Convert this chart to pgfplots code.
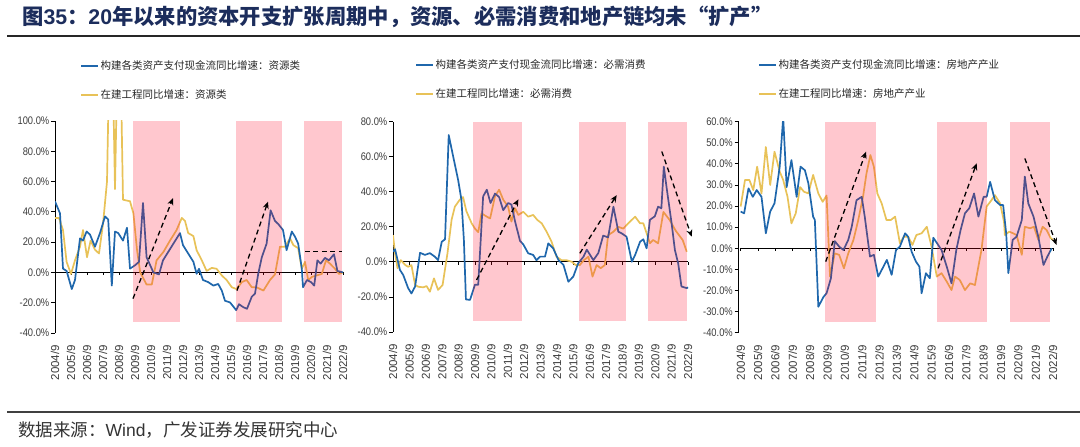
\documentclass[border=0pt]{standalone}
\usepackage{pgfplots}
\pgfplotsset{compat=1.18}
\usetikzlibrary{arrows.meta}
\usepackage{fontspec}
\setmainfont{Liberation Sans}
\newfontfamily\cjk{Noto Sans CJK SC}
\newfontfamily\narrowf[FakeStretch=0.85]{Liberation Sans}
\definecolor{lblue}{RGB}{31,103,172}
\definecolor{lyel}{RGB}{232,194,88}
\definecolor{titlec}{RGB}{28,45,92}
\definecolor{shadec}{RGB}{255,0,30}
\definecolor{tickc}{RGB}{60,60,60}

\pgfplotsset{
  panelstyle/.style={
    scale only axis,
    axis y line*=left,
    axis x line*=bottom,
    x axis line style={draw=none},
    xtick style={draw=none},
    y axis line style={black, line width=0.8bp},
    ytick style={black, line width=0.8bp},
    tick align=outside,
    major tick length=4bp,
    xmin=0, xmax=74,
    xtick={0,4,...,72},
    xticklabels={2004/9,2005/9,2006/9,2007/9,2008/9,2009/9,2010/9,2011/9,2012/9,2013/9,2014/9,2015/9,2016/9,2017/9,2018/9,2019/9,2020/9,2021/9,2022/9},
    xticklabel style={rotate=90, anchor=east, inner sep=0pt, font=\fontsize{11.5bp}{11.5bp}\selectfont, text=tickc},
    xticklabel shift=8bp,
    yticklabel style={font=\narrowf\fontsize{11bp}{11bp}\selectfont, text=tickc, inner sep=1.5bp},
    legend style={draw=none, fill=none, inner sep=0pt, row sep=15bp,
      font=\cjk\fontsize{10.5bp}{12bp}\selectfont, text=black!85, anchor=north west,
      nodes={inner xsep=1.5bp}},
    legend cell align=left,
    reverse legend,
    legend image code/.code={\draw[#1, line width=2bp] (0bp,0bp) -- (17bp,0bp);},
    clip=true,
  },
  bl/.style={lblue, line width=1.7bp, line join=round},
  yl/.style={lyel, line width=1.7bp, line join=round},
  shadest/.style={draw=none, fill=shadec, fill opacity=0.22, forget plot},
  arr/.style={black, line width=1.3bp, dash pattern=on 5bp off 3.5bp, -{Stealth[length=7bp,width=6bp]}, forget plot},
}

\begin{document}
\begin{tikzpicture}
\path[use as bounding box] (0,0) rectangle (1080bp,447bp);

% title
\node[anchor=base west, inner sep=0pt, text=titlec] at (22bp,422bp)
  {\fontsize{21.3bp}{24bp}\selectfont\cjk\bfseries 图{\rmfamily\bfseries 35}：{\rmfamily\bfseries 20}年以来的资本开支扩张周期中，资源、必需消费和地产链均未“扩产”};
\draw[black!85, line width=1.5bp] (7bp,411bp) -- (1080bp,411bp);
\draw[black!75, line width=1.2bp] (7bp,35bp) -- (1080bp,35bp);
\node[anchor=base west, inner sep=0pt, text=black!80] at (18bp,11bp)
  {\fontsize{17.5bp}{19bp}\selectfont\cjk 数据来源：{\rmfamily Wind}，广发证券发展研究中心};

% ================= Panel 1 =================
\begin{axis}[panelstyle,
  at={(55bp,114bp)}, anchor=south west,
  width=296bp, height=212bp,
  ymin=-40, ymax=100,
  ytick={-40,-20,0,20,40,60,80,100},
  yticklabels={-40.0\%,-20.0\%,0.0\%,20.0\%,40.0\%,60.0\%,80.0\%,100.0\%},
  legend style={at={(0.0845,1.295)}},
]
\addplot[black, line width=1bp, forget plot] coordinates {(0,0) (72,0)};
\addplot[black, line width=0.8bp, ycomb, forget plot] coordinates {(0,-2)(4,-2)(8,-2)(12,-2)(16,-2)(20,-2)(24,-2)(28,-2)(32,-2)(36,-2)(40,-2)(44,-2)(48,-2)(52,-2)(56,-2)(60,-2)(64,-2)(68,-2)(72,-2)};
\addplot[yl] coordinates {(0,36)(1,36)(2,28)(2.9,7)(4,-1)(5,8)(6.25,17)(7,28)(8,10)(8.9,21)(10,15)(11,12.5)(12,32)(13,60)(14,200)(15,55)(16,200)(17,48)(18.75,47)(19.6,39)(20.5,15)(21.3,0)(22.9,-8)(24.2,-8)(25.4,8)(27.1,13.5)(28.75,21)(30.4,28)(31.7,36)(32.5,34)(33.3,26)(34.6,24)(35.4,14.7)(36.7,8)(37.9,1)(39.2,3)(40.4,2.4)(41.7,-2)(42.9,-5)(44.2,-9.8)(45.4,-11)(46.7,-6.4)(47.9,-5)(49.2,-9.8)(50.4,-9.8)(52.1,-12)(53.75,-5)(55,-1.3)(56.25,17)(57.5,17)(58.75,22.5)(59.6,18)(60.8,16)(61.7,2.4)(62.5,7)(63.3,-5)(64.2,-3)(65.4,-2)(66.7,-1)(67.75,8)(68.75,5.8)(70,2.4)(71,-1)(72,0)};
\addlegendentry{在建工程同比增速：资源类}
\addplot[bl] coordinates {(0,46.9)(1.25,39)(2,2.5)(2.9,1)(4.2,-11)(5,-5)(6.25,22.5)(7,21)(7.9,27)(8.75,25)(10,17)(11.25,26)(12.5,37)(13.3,35)(14.2,-8.7)(15,27)(15.8,26)(17,21)(18,29.5)(18.75,2.5)(20,4.7)(21,7)(22,45.8)(22.9,10)(23.75,5)(24.6,0)(26,-1.3)(27,8)(28.3,13.5)(29.6,19)(31.25,26)(32,18)(33.3,12.5)(34.6,7)(35.4,-0.9)(36,2.4)(37,-5)(38.3,-6.4)(39.6,-8.7)(40.8,-7.6)(41.7,-12)(42.5,-18.7)(43.75,-19.8)(45.3,-24.9)(46,-21)(47.1,-23)(48,-24)(49.2,-16)(50,-14)(50.8,-1)(51.7,10)(52.9,19)(53.9,41)(55,34)(55.8,32)(57,28)(57.9,14.7)(59.2,27)(60,23.6)(60.8,19)(61.7,2.4)(62,-9.8)(63,-5)(64,-6.4)(64.8,-8.7)(65.6,8)(66.4,5.8)(67.5,9.6)(68.5,8)(69.75,12)(70.6,1)(72,0)};
\addlegendentry{构建各类资产支付现金流同比增速：资源类}
\addplot[shadest] coordinates {(19.5,-33)(31.3,-33)(31.3,100)(19.5,100)} -- cycle;
\addplot[shadest] coordinates {(45.3,-33)(56.8,-33)(56.8,100)(45.3,100)} -- cycle;
\addplot[shadest] coordinates {(62.2,-33)(71.8,-33)(71.8,100)(62.2,100)} -- cycle;
\addplot[arr] coordinates {(19.5,-17.3)(29.5,49)};
\addplot[arr] coordinates {(45.5,-12)(53.25,46.7)};
\addplot[black, line width=1.3bp, dash pattern=on 5bp off 3.5bp, forget plot] coordinates {(62.5,14)(71.75,14)};
\end{axis}

% ================= Panel 2 =================
\begin{axis}[panelstyle,
  at={(393bp,115bp)}, anchor=south west,
  width=303.2bp, height=210.3bp,
  ymin=-40, ymax=80,
  ytick={-40,-20,0,20,40,60,80},
  yticklabels={-40.0\%,-20.0\%,0.0\%,20.0\%,40.0\%,60.0\%,80.0\%},
  legend style={at={(0.0726,1.306)}},
]
\addplot[black, line width=1bp, forget plot] coordinates {(0,0) (72,0)};
\addplot[black, line width=0.8bp, ycomb, forget plot] coordinates {(0,-1.7)(4,-1.7)(8,-1.7)(12,-1.7)(16,-1.7)(20,-1.7)(24,-1.7)(28,-1.7)(32,-1.7)(36,-1.7)(40,-1.7)(44,-1.7)(48,-1.7)(52,-1.7)(56,-1.7)(60,-1.7)(64,-1.7)(68,-1.7)(72,-1.7)};
\addplot[yl] coordinates {(0,15.3)(0.5,5)(1.1,-3.6)(1.9,1)(3,-1.8)(3.7,-2.8)(4.5,-1.8)(5.4,-13.2)(6.2,-14.2)(7.4,-14.5)(8.2,-13.8)(9,-17)(10,-9.4)(11,-16)(12.1,-13.2)(13.3,5)(14.3,24)(15.1,31.5)(16.3,35.5)(17.1,37)(17.9,29)(19.2,22)(20,19)(20.8,17)(21.6,27.7)(22.9,25.8)(23.7,24.8)(24.9,37.5)(25.9,41.2)(26.9,35.5)(28.1,31.5)(28.9,23)(29.8,30.6)(30.6,26.8)(31.8,28.6)(33,25.8)(34.2,26.8)(35.2,24)(36.3,22)(37.5,17.2)(38.7,11.5)(39.9,3)(41.1,1)(42.3,1)(43.6,0.1)(44.6,-1.8)(45.6,-1.8)(46.6,1)(47.7,3)(48.7,-8.4)(49.7,-1.8)(50.7,-3.6)(51.7,-1.8)(52.5,15.3)(53.8,17.2)(55,20)(56.2,19)(57.4,22)(59.1,25.8)(60.3,22)(61.1,22)(61.9,16.3)(62.7,10.6)(63.5,12.5)(64.7,10.6)(66,28.5)(67.5,24)(69,17.8)(70.7,12.5)(71.7,5.8)};
\addlegendentry{在建工程同比增速：必需消费}
\addplot[bl] coordinates {(0,5.8)(0.5,7.2)(1.7,-4.6)(2.5,-7.5)(3.7,-15)(4.5,-18)(5.4,-14)(6.6,5.2)(7.8,4)(9,5)(10.2,3)(11,1)(11.9,11.5)(12.7,12.9)(13.6,72.4)(14.7,60)(15.9,46.7)(16.7,35.5)(17.3,12.5)(17.8,-21.4)(18.8,-21.7)(20,-13)(20.8,-13)(22,37.4)(22.9,41.2)(23.8,33.6)(24.9,39)(25.9,37)(26.9,29.5)(28.1,33.6)(28.9,32.7)(29.8,23)(31,12)(31.8,10)(33,4.9)(34.2,4)(35,1)(35.9,3)(37.1,3)(37.9,10.6)(39.1,7.7)(40.4,1)(41.6,-1.7)(42.8,-11.3)(44,-8.4)(45.2,-0.8)(46.5,3)(47.3,7)(48.9,1)(50.1,5)(51.3,15)(52.5,14)(53.8,31.5)(55,17.2)(55.8,16.3)(57,14.4)(58.3,0.1)(59.1,4)(60.3,11.5)(61.1,12.9)(61.9,7.7)(62.7,24)(63.9,26)(64.7,31.5)(65.5,30.6)(66.1,54.4)(66.8,42)(68,22)(68.8,6.8)(69.6,-0.8)(70.4,-14)(71.7,-15)(72,-14.5)};
\addlegendentry{构建各类资产支付现金流同比增速：必需消费}
\addplot[shadest] coordinates {(19.6,-34)(31.4,-34)(31.4,80)(19.6,80)} -- cycle;
\addplot[shadest] coordinates {(45.4,-34)(56.9,-34)(56.9,80)(45.4,80)} -- cycle;
\addplot[shadest] coordinates {(62.3,-34)(71.7,-34)(71.7,80)(62.3,80)} -- cycle;
\addplot[arr] coordinates {(20.4,-10.3)(30.6,35.7)};
\addplot[arr] coordinates {(45.6,4.9)(54.6,38.1)};
\addplot[arr] coordinates {(65.6,63)(72.9,14.4)};
\end{axis}

% ================= Panel 3 =================
\begin{axis}[panelstyle,
  at={(738.5bp,114.3bp)}, anchor=south west,
  xmin=-0.5,
  width=323.2bp, height=211bp,
  ymin=-40, ymax=60,
  ytick={-40,-30,-20,-10,0,10,20,30,40,50,60},
  yticklabels={-40.0\%,-30.0\%,-20.0\%,-10.0\%,0.0\%,10.0\%,20.0\%,30.0\%,40.0\%,50.0\%,60.0\%},
  legend style={at={(0.0603,1.305)}},
]
\addplot[black, line width=1bp, forget plot] coordinates {(0,0) (72,0)};
\addplot[black, line width=0.8bp, ycomb, forget plot] coordinates {(0,-1.4)(4,-1.4)(8,-1.4)(12,-1.4)(16,-1.4)(20,-1.4)(24,-1.4)(28,-1.4)(32,-1.4)(36,-1.4)(40,-1.4)(44,-1.4)(48,-1.4)(52,-1.4)(56,-1.4)(60,-1.4)(64,-1.4)(68,-1.4)(72,-1.4)};
\addplot[yl] coordinates {(0,19.8)(1,32.4)(2,32.4)(2.9,27.6)(3.8,38.7)(4.8,26)(5.8,48)(6.8,30)(7.8,45.8)(9,36.3)(9.8,32.4)(10.8,24.4)(11.7,11.8)(12.7,16.6)(13.7,29)(14.6,26.8)(15.6,26)(16.7,34.8)(17.9,26)(18.9,22)(19.8,25)(20.6,-13.4)(21.7,-2.4)(22.7,-3.1)(23.8,-9.5)(24.8,-2.4)(26,4)(27.1,13.4)(28.2,24.4)(29,35.5)(29.9,44.2)(30.7,38.7)(31.5,26)(32.5,21.3)(33.6,13.4)(34.6,13.4)(35.6,15)(36.7,2.4)(37.6,5.5)(38.6,5.5)(39.6,1.6)(40.5,6.3)(41.7,7.1)(42.9,10.2)(44,0.8)(45.2,-13.4)(46.3,-11.8)(47.5,-15.8)(48.6,-19.8)(49.4,-13.4)(50.5,-15)(51.7,-19.8)(52.9,-16.6)(54,-17.4)(55.5,-0.8)(56.7,19.8)(57.8,22.8)(58.6,25.2)(59.8,21.3)(60.7,12.6)(60.9,6.3)(61.9,7.9)(62.8,7.1)(63.6,6.3)(64.8,-3.1)(65.5,10.2)(66.7,9.5)(67.6,10.2)(68.6,4)(69.6,10.2)(70.5,8.7)(71.5,4.7)(72,4)};
\addlegendentry{在建工程同比增速：房地产产业}
\addplot[bl] coordinates {(0,17.4)(0.8,16.6)(1.8,28.4)(2.8,24.4)(3.7,27.6)(4.8,24.4)(5.8,7.1)(6.8,17.4)(7.8,21.3)(9,38.7)(9.8,62)(10.6,29)(11.7,41.8)(12.9,24.4)(13.8,38.7)(14.8,37)(15.6,30.8)(16.7,15)(17.1,13.4)(17.9,-27.7)(19.1,-23)(19.8,-21.3)(20.8,-14.2)(21.7,3.4)(22.7,0.8)(23.7,-0.8)(24.8,4)(25.6,10.2)(26.7,22.8)(27.9,24.4)(28.6,15)(29.8,-3.9)(30.7,-3.1)(31.7,-13.4)(32.7,-9.5)(33.7,-5.5)(34.8,-12.6)(35.8,-0.8)(36.7,0.8)(37.9,7.1)(38.6,5.5)(39.4,-1.6)(40.4,-6.3)(41.2,-8.7)(41.7,-21.3)(42.7,-11.8)(43.6,-14.2)(44.4,5)(45.2,2.6)(46.3,-0.8)(47.5,-8.7)(48.6,-16.6)(49.7,-0.8)(50.7,8.7)(51.7,16.6)(52.7,19)(53.8,26)(54.8,15)(56,24.4)(56.7,24.4)(57.5,31.5)(58.6,22.8)(59.8,20.5)(60.5,20.5)(61.2,7.1)(61.7,-11.8)(62.7,4)(63.6,5.5)(64.8,13.4)(65.5,34)(66.3,21.3)(67.5,15)(68.6,5.5)(69.8,-7.9)(70.7,-3.9)(71.7,0)};
\addlegendentry{构建各类资产支付现金流同比增速：房地产产业}
\addplot[shadest] coordinates {(19.4,-35)(31.2,-35)(31.2,60)(19.4,60)} -- cycle;
\addplot[shadest] coordinates {(45.2,-35)(56.7,-35)(56.7,60)(45.2,60)} -- cycle;
\addplot[shadest] coordinates {(62.1,-35)(71.3,-35)(71.3,60)(62.1,60)} -- cycle;
\addplot[arr] coordinates {(19.6,-6.3)(28.9,45.8)};
\addplot[arr] coordinates {(45.5,-9.5)(54.4,40.3)};
\addplot[arr] coordinates {(65.5,42.6)(72.8,1.6)};
\end{axis}
\end{tikzpicture}
\end{document}
